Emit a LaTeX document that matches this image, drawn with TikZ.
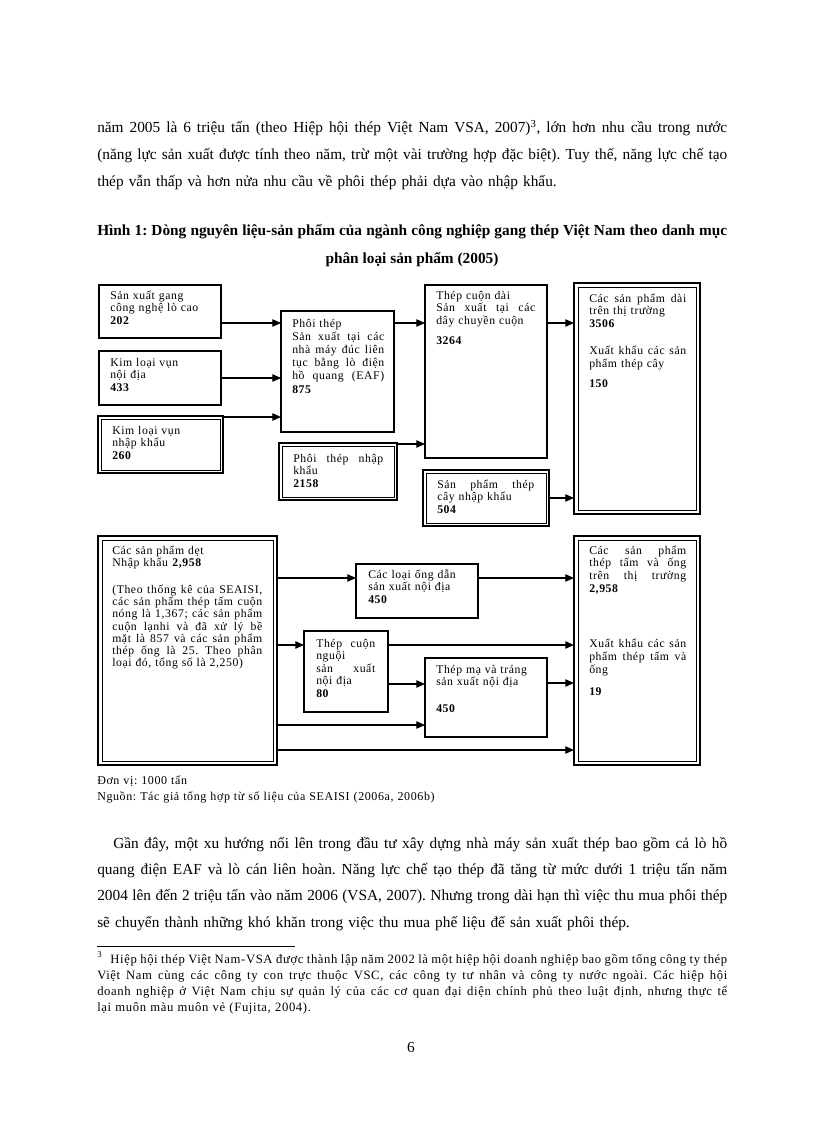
\documentclass[tikz,border=0pt]{standalone}
\usepackage{fontspec}
\setmainfont{Liberation Serif}
\newfontfamily\lsf{Liberation Serif}[LetterSpace=5]
\usetikzlibrary{arrows.meta,fit}
\newcommand\jl[1]{{\spaceskip=0pt\xspaceskip=0pt\makebox[\hsize][s]{#1}}}
\begin{document}
\frenchspacing
\begin{tikzpicture}[x=0.75pt,y=-0.75pt,
 box/.style={draw, line width=0.8pt, inner sep=0pt, outer sep=0pt},
 boxb/.style={box, line width=1.1pt},
 dbl/.style={box, line width=1.2pt},
 dblt/.style={box, line width=1.6pt},
 innerline/.style={line width=0.6pt},
 tx/.style={inner sep=0pt, anchor=base west, font=\lsf\fontsize{8.8}{9.7}\selectfont},
 arr/.style={-{Triangle[length=6.5pt,width=5.5pt]}, line width=0.9pt},
 bodytext/.style={inner sep=0pt, anchor=base west, text width=472.5pt, font=\fontsize{11.5}{19.9}\selectfont}
]
\useasboundingbox[fill=white] (0,0) rectangle (816,1123);

% ---- page text above ----
\node[bodytext] (p1) at (97,133) {\jl{năm 2005 là 6 triệu tấn (theo Hiệp hội thép Việt Nam VSA, 2007)\textsuperscript{3}, lớn hơn nhu cầu trong nước}\\
\jl{(năng lực sản xuất được tính theo năm, trừ một vài trường hợp đặc biệt). Tuy thế, năng lực chế tạo}\\
thép vẫn thấp và hơn nửa nhu cầu về phôi thép phải dựa vào nhập khẩu.};
\node[bodytext, font=\bfseries\fontsize{11.5}{19.9}\selectfont] (cap1) at (97,235) {\jl{Hình 1: Dòng nguyên liệu-sản phẩm của ngành công nghiệp gang thép Việt Nam theo danh mục}};
\node[inner sep=0pt, anchor=base, font=\bfseries\fontsize{11.5}{19.9}\selectfont] (cap2) at (412,263) {phân loại sản phẩm (2005)};

% ---- boxes ----
\node[boxb, fit={(99,285) (221,338)}] (b1) {};
\node[boxb, fit={(99,351) (221,405)}] (b2) {};
\node[dbl, fit={(98,416) (223,473)}] (b3) {};
\node[box, fit={(281,311) (394,432)}] (b4) {};
\node[dbl, fit={(279,443) (397,500)}] (b5) {};
\node[box, fit={(425,285) (547,458)}] (b6) {};
\node[dbl, fit={(423,470) (549,526)}] (b7) {};
\node[dblt, fit={(574,283) (700,514)}] (b8) {};
\node[dblt, fit={(98,536) (277,765)}] (b9) {};
\node[box, fit={(356,564) (478,618)}] (b10) {};
\node[box, fit={(304,631) (388,712)}] (b11) {};
\node[dblt, fit={(574,536) (700,765)}] (b12) {};
\node[box, fit={(425,658) (547,737)}] (b13) {};

\foreach \n/\d in {b3/3, b5/3, b7/3, b8/4, b9/4, b12/4}
  \draw[innerline] ([shift={(\d,\d)}]\n.north west) rectangle ([shift={(-\d,-\d)}]\n.south east);

% ---- box texts ----
\node[tx, text width=75pt] (t1) at (110,299) {Sản xuất gang\\công nghệ lò cao\\\textbf{202}};
\node[tx, text width=75pt] (t2) at (110,366) {Kim loại vụn\\nội địa\\\textbf{433}};
\node[tx, text width=75pt] (t3) at (112,434) {Kim loại vụn\\nhập khẩu\\\textbf{260}};
\node[tx, text width=69pt, font=\lsf\fontsize{8.8}{9.9}\selectfont] (t4) at (292,327) {Phôi thép\\\jl{Sản xuất tại các}\\\jl{nhà máy đúc liên}\\\jl{tục bằng lò điện}\\\jl{hồ quang (EAF)}\\\textbf{875}};
\node[tx, text width=67.5pt] (t5) at (293,462) {\jl{Phôi thép nhập}\\khẩu\\\textbf{2158}};
\node[tx, text width=74.25pt] (t6) at (436,299) {Thép cuộn dài\\\jl{Sản xuất tại các}\\dây chuyền cuộn\\[5.25pt]\textbf{3264}};
\node[tx, text width=72.75pt] (t7) at (437,488) {\jl{Sản phẩm thép}\\cây nhập khẩu\\\textbf{504}};
\node[tx, text width=72.75pt] (t8) at (589,302) {\jl{Các sản phẩm dài}\\trên thị trường\\\textbf{3506}\\[10.5pt]\jl{Xuất khẩu các sản}\\phẩm thép cây\\[5.25pt]\textbf{150}};
\node[tx, text width=112.5pt, font=\lsf\fontsize{8.8}{9.2}\selectfont] (t9) at (112,554) {Các sản phẩm dẹt\\Nhập khẩu \textbf{2,958}\\[11pt]\jl{(Theo thống kê của SEAISI,}\\\jl{các sản phẩm thép tấm cuộn}\\\jl{nóng là 1,367; các sản phẩm}\\\jl{cuộn lạnhi và đã xử lý bề}\\\jl{mặt là 857 và các sản phẩm}\\\jl{thép ống là 25. Theo phân}\\loại đó, tổng số là 2,250)};
\node[tx, text width=75pt] (t10) at (368,578) {Các loại ống dẫn\\sản xuất nội địa\\\textbf{450}};
\node[tx, text width=44.25pt, font=\lsf\fontsize{8.8}{9.4}\selectfont] (t11) at (316,647) {\jl{Thép cuộn}\\nguội\\\jl{sản xuất}\\nội địa\\\textbf{80}};
\node[tx, text width=72.75pt] (t12) at (589,554) {\jl{Các sản phẩm}\\\jl{thép tấm và ống}\\\jl{trên thị trường}\\\textbf{2,958}\\[31.5pt]\jl{Xuất khẩu các sản}\\\jl{phẩm thép tấm và}\\ống\\[6.75pt]\textbf{19}};
\node[tx, text width=75pt] (t13) at (436,673) {Thép mạ và tráng\\sản xuất nội địa\\[10.5pt]\textbf{450}};

% ---- connectors ----
\draw[arr] (b1.east |- 0,323) -- (b4.west |- 0,323);
\draw[arr] (b2.east |- 0,378) -- (b4.west |- 0,378);
\draw[arr] (b3.east |- 0,417) -- (b4.west |- 0,417);
\draw[arr] (b4.east |- 0,323) -- (b6.west |- 0,323);
\draw[arr] (b5.east |- 0,444) -- (b6.west |- 0,444);
\draw[arr] (b6.east |- 0,323) -- (b8.west |- 0,323);
\draw[arr] (b7.east |- 0,498) -- (b8.west |- 0,498);
\draw[arr] (b9.east |- 0,578) -- (b10.west |- 0,578);
\draw[arr] (b10.east |- 0,578) -- (b12.west |- 0,578);
\draw[arr] (b9.east |- 0,645) -- (b11.west |- 0,645);
\draw[arr] (b11.east |- 0,645) -- (b12.west |- 0,645);
\draw[arr] (b11.east |- 0,684) -- (b13.west |- 0,684);
\draw[arr] (b13.east |- 0,683) -- (b12.west |- 0,683);
\draw[arr] (b9.east |- 0,725) -- (b13.west |- 0,725);
\draw[arr] (b9.east |- 0,750) -- (b12.west |- 0,750);

% ---- notes ----
\node[inner sep=0pt, anchor=base west, text width=472.5pt, font=\lsf\fontsize{9}{12}\selectfont] (units) at (97,784) {Đơn vị: 1000 tấn\\Nguồn: Tác giả tổng hợp từ số liệu của SEAISI (2006a, 2006b)};

\node[bodytext, font=\fontsize{11.5}{19.75}\selectfont] (p2) at (97,848) {\jl{\hspace*{12pt}Gần đây, một xu hướng nổi lên trong đầu tư xây dựng nhà máy sản xuất thép bao gồm cả lò hồ}\\
\jl{quang điện EAF và lò cán liên hoàn. Năng lực chế tạo thép đã tăng từ mức dưới 1 triệu tấn năm}\\
\jl{2004 lên đến 2 triệu tấn vào năm 2006 (VSA, 2007). Nhưng trong dài hạn thì việc thu mua phôi thép}\\
sẽ chuyển thành những khó khăn trong việc thu mua phế liệu để sản xuất phôi thép.};

\coordinate (rule0) at (97,946);
\coordinate (rule1) at (295,946);
\draw[line width=0.5pt] (rule0) -- (rule1);

\node[bodytext, font=\lsf\fontsize{9.5}{12.1}\selectfont] (fn) at (97,963) {\jl{\textsuperscript{3}\hspace*{6pt}Hiệp hội thép Việt Nam-VSA được thành lập năm 2002 là một hiệp hội doanh nghiệp bao gồm tổng công ty thép}\\
\jl{Việt Nam cùng các công ty con trực thuộc VSC, các công ty tư nhân và công ty nước ngoài. Các hiệp hội}\\
\jl{doanh nghiệp ở Việt Nam chịu sự quản lý của các cơ quan đại diện chính phủ theo luật định, nhưng thực tế}\\
lại muôn màu muôn vẻ (Fujita, 2004).};

\node[inner sep=0pt, anchor=base, font=\fontsize{11.5}{14}\selectfont] (pg) at (411,1052) {6};
\end{tikzpicture}
\end{document}
